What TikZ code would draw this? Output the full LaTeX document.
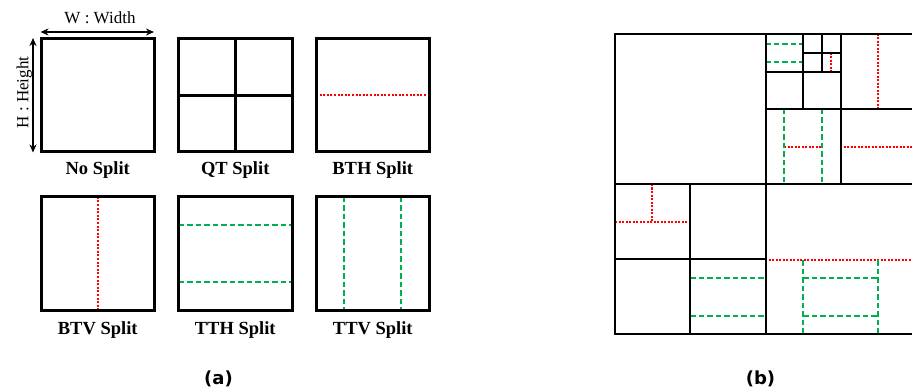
\documentclass[tikz,border=0pt]{standalone}
\usepackage{fontspec}
\setmainfont{Liberation Serif}
\newfontfamily\capfont{DejaVu Sans}
\usetikzlibrary{arrows.meta}
\definecolor{ttgreen}{RGB}{0,176,80}
\definecolor{btred}{RGB}{255,0,0}
\tikzset{
  abox/.style={draw=black, line width=3pt},
  aline/.style={draw=black, line width=3pt},
  rdot/.style={draw=btred, line width=2pt, dash pattern=on 2pt off 1.6pt},
  gdash/.style={draw=ttgreen, line width=2pt, dash pattern=on 5.5pt off 3pt},
  bline/.style={draw=black, line width=1.6pt},
  rdotb/.style={draw=btred, line width=2pt, dash pattern=on 2pt off 1.5pt},
  gdashb/.style={draw=ttgreen, line width=2pt, dash pattern=on 5.5pt off 3pt},
  lbl/.style={font=\fontsize{18.5}{20}\selectfont\bfseries, anchor=base, inner sep=0pt},
  dimlbl/.style={font=\fontsize{17}{19}\selectfont, anchor=base, inner sep=0pt},
  captext/.style={font=\fontsize{18}{20}\selectfont\capfont\bfseries, anchor=base, inner sep=0pt},
  dimarrow/.style={line width=2pt, {Stealth[length=8pt,width=7pt]}-{Stealth[length=8pt,width=7pt]}}
}
\begin{document}
\begin{tikzpicture}[x=1pt,y=-1pt]
\useasboundingbox (0,0) rectangle (912,390);
% ---------- (a) ----------
% dimension arrows
\coordinate (wl) at (40.5,32); \coordinate (wr) at (154,32);
\draw[dimarrow] (wl) -- (wr);
\node[dimlbl] (wlabel) at (100,23.3) {W : Width};
\coordinate (ht) at (33,38); \coordinate (hb) at (33,152.5);
\draw[dimarrow] (ht) -- (hb);
\node[dimlbl, rotate=90] (hlabel) at (28.3,92.5) {H : Height};
% split markers (drawn first)
\draw[rdot] (316,95) -- (429.5,95);
\draw[rdot] (98,196.7) -- (98,310.2);
\draw[gdash] (178.5,225) -- (292,225);
\draw[gdash] (178.5,282) -- (292,282);
\draw[gdash] (344,196.7) -- (344,310.2);
\draw[gdash] (401,196.7) -- (401,310.2);
% boxes
\draw[abox] (41,38.5) rectangle (154.5,152);
\draw[abox] (178.5,38.5) rectangle (292,152);
\draw[aline] (235.25,38.5) -- (235.25,152);
\draw[aline] (178.5,95.25) -- (292,95.25);
\draw[abox] (316,38.5) rectangle (429.5,152);
\draw[abox] (41,196.7) rectangle (154.5,310.2);
\draw[abox] (178.5,196.7) rectangle (292,310.2);
\draw[abox] (316,196.7) rectangle (429.5,310.2);
% labels
\node[lbl] (l1) at (97.75,174.5) {No Split};
\node[lbl] (l2) at (235.25,174.5) {QT Split};
\node[lbl] (l3) at (372.75,174.5) {BTH Split};
\node[lbl] (l4) at (97.75,334) {BTV Split};
\node[lbl] (l5) at (235.25,334) {TTH Split};
\node[lbl] (l6) at (372.75,334) {TTV Split};
% ---------- (b) ----------
\begin{scope}
\clip (0,0) rectangle (912,390);
% red dotted (BT)
\draw[rdotb] (831,53) -- (831,71.5);
\draw[rdotb] (878,34) -- (878,109);
\draw[rdotb] (784,147) -- (821,147);
\draw[rdotb] (840,147) -- (915,147);
\draw[rdotb] (615,222) -- (690,222);
\draw[rdotb] (652,184) -- (652,222);
\draw[rdotb] (765,260) -- (915,260);
% green dashed (TT)
\draw[gdashb] (765,44) -- (802.5,44);
\draw[gdashb] (765,62) -- (802.5,62);
\draw[gdashb] (784,109) -- (784,184);
\draw[gdashb] (822,109) -- (822,184);
\draw[gdashb] (690,278) -- (765,278);
\draw[gdashb] (690,316) -- (765,316);
\draw[gdashb] (803,260) -- (803,334);
\draw[gdashb] (878,260) -- (878,334);
\draw[gdashb] (803,278) -- (878,278);
\draw[gdashb] (803,316) -- (878,316);
% black partition lines
\draw[bline] (766,34) -- (766,334);
\draw[bline] (615,184) -- (915,184);
\draw[bline] (841,34) -- (841,184);
\draw[bline] (766,109) -- (915,109);
\draw[bline] (803,34) -- (803,109);
\draw[bline] (766,72) -- (841,72);
\draw[bline] (822,34) -- (822,72);
\draw[bline] (803,53) -- (841,53);
\draw[bline] (690,184) -- (690,334);
\draw[bline] (615,259) -- (766,259);
\draw[draw=black, line width=2pt] (615,34) rectangle (916,334);
\end{scope}
% captions
\node[captext] (capa) at (218.5,384) {(a)};
\node[captext] (capb) at (760.5,384) {(b)};
\end{tikzpicture}
\end{document}
